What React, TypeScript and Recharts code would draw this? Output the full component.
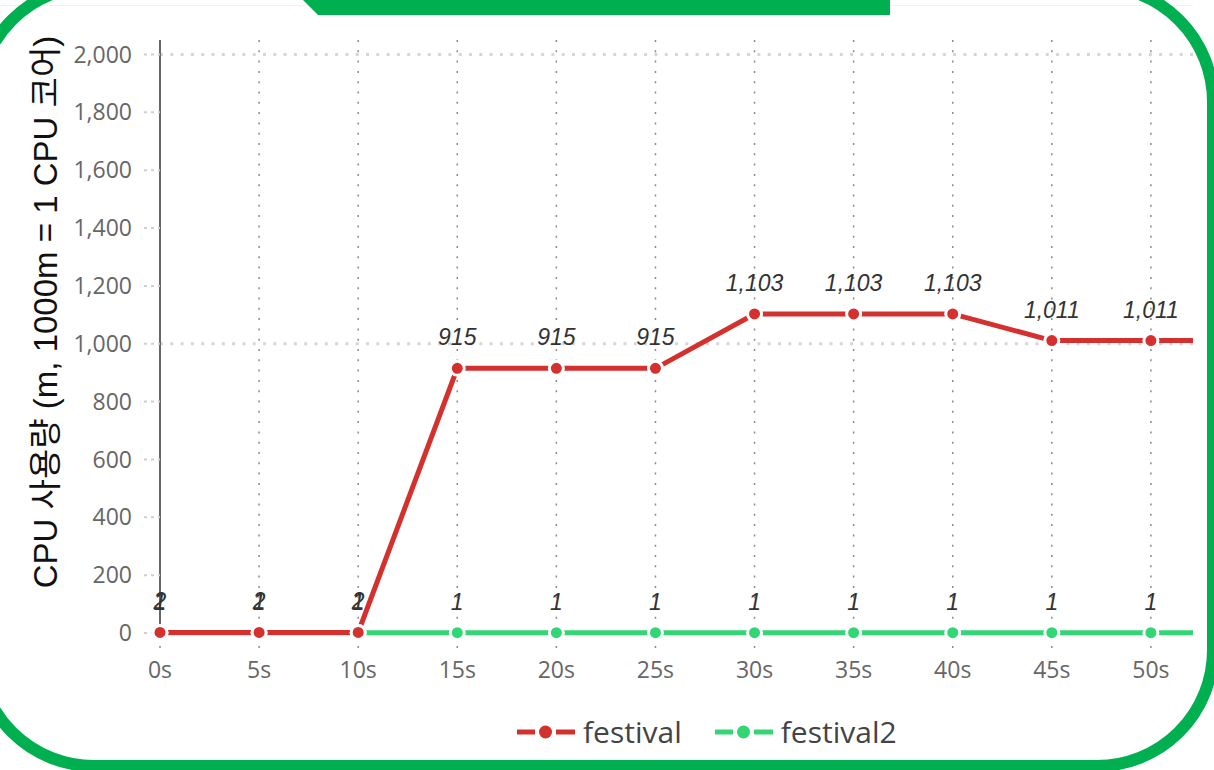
import { LineChart, Line, XAxis, YAxis, CartesianGrid, ReferenceLine, LabelList } from 'recharts';

// sample times in seconds; the last sample runs past the cropped right edge
const seconds = [0, 5, 10, 15, 20, 25, 30, 35, 40, 45, 50, 55];
const festival = [2, 2, 2, 915, 915, 915, 1103, 1103, 1103, 1011, 1011, 1011];
const festival2 = [1, 1, 1, 1, 1, 1, 1, 1, 1, 1, 1, 1];
const xTicks = [0, 5, 10, 15, 20, 25, 30, 35, 40, 45, 50];
const yTicks = [0, 200, 400, 600, 800, 1000, 1200, 1400, 1600, 1800, 2000];
const gridValues = [1000, 2000];
const yLabel = 'CPU 사용량 (m, 1000m = 1 CPU 코어)';

const series = [
    { key: 'festival', color: '#d3302e', values: festival },
    { key: 'festival2', color: '#33d675', values: festival2 },
];

const fmt = (v: number) => v.toLocaleString('en-US');
const lastVisible = xTicks[xTicks.length - 1];

function LegendIcon({ color }: { color: string }) {
    return (
        <svg width={58} height={20} style={{ display: 'block' }}>
            <line x1={0} y1={10} x2={18} y2={10} stroke={color} strokeWidth={5} />
            <circle cx={28.5} cy={10} r={6.5} fill={color} />
            <line x1={39} y1={10} x2={58} y2={10} stroke={color} strokeWidth={5} />
        </svg>
    );
}

export default function App() {
    const data = seconds.map((t, i) => {
        const row: Record<string, number | null> = { t };
        series.forEach((s) => {
            row[s.key] = s.values[i];
            // no value label for the sample that falls outside the crop
            row[s.key + 'Label'] = t <= lastVisible ? s.values[i] : null;
        });
        return row;
    });

    return (
        <div style={{ position: 'absolute', left: 0, top: 0, width: 1214, height: 770, overflow: 'hidden', background: '#fff' }}>
            {/* chart picture, cropped on the right */}
            <div style={{ position: 'absolute', left: 0, top: 0, width: 1193, height: 770, overflow: 'hidden' }}>
                <div style={{ position: 'absolute', left: 0, top: 5, width: '100%', height: 1, background: '#f2f2f2' }} />
                <LineChart width={1300} height={770} data={data} margin={{ top: 40, right: 50, bottom: 87, left: 0 }}>
                    <CartesianGrid horizontal={false} stroke="#8a8a8a" strokeWidth={1.5} strokeDasharray="2 8.3" />
                    {gridValues.map((v) => (
                        <ReferenceLine key={v} y={v} stroke="#d6d6d6" strokeWidth={3} strokeDasharray="3 7.3" />
                    ))}
                    <XAxis
                        dataKey="t"
                        type="number"
                        domain={[0, 55]}
                        ticks={xTicks}
                        interval={0}
                        height={50}
                        axisLine={false}
                        tickSize={15}
                        tickMargin={14}
                        tickLine={{ stroke: '#8a8a8a', strokeWidth: 1.5, strokeDasharray: '2 8.3' }}
                        tick={{ fill: '#666', fontSize: 23, fontFamily: '"Open Sans", sans-serif' }}
                        tickFormatter={(v) => `${v}s`}
                    />
                    <YAxis
                        width={160}
                        domain={[0, 2050]}
                        ticks={yTicks}
                        interval={0}
                        axisLine={{ stroke: '#666', strokeWidth: 2 }}
                        tickSize={16}
                        tickMargin={12}
                        tickLine={{ stroke: '#cfcfcf', strokeWidth: 2, strokeDasharray: '3 4' }}
                        tick={{ fill: '#666', fontSize: 23, fontFamily: '"Open Sans", sans-serif' }}
                        tickFormatter={fmt}
                    />
                    {[...series].reverse().map((s) => (
                        <Line
                            key={s.key}
                            type="linear"
                            dataKey={s.key}
                            stroke={s.color}
                            strokeWidth={5}
                            dot={{ r: 7, fill: s.color, stroke: '#fff', strokeWidth: 3 }}
                            activeDot={false}
                            isAnimationActive={false}
                        >
                            <LabelList
                                dataKey={s.key + 'Label'}
                                position="top"
                                offset={23}
                                formatter={fmt}
                                fill="#333"
                                fontSize={23}
                                fontStyle="italic"
                                fontFamily='"Liberation Sans", Arial, sans-serif'
                            />
                        </Line>
                    ))}
                </LineChart>
            </div>

            {/* y axis title */}
            <svg width={100} height={770} style={{ position: 'absolute', left: 0, top: 0 }}>
                <text
                    x={45}
                    y={312}
                    transform="rotate(-90 45 312)"
                    textAnchor="middle"
                    dominantBaseline="central"
                    fontSize={33}
                    fill="#111"
                    fontFamily='"Liberation Sans", "Noto Sans CJK KR", sans-serif'
                >
                    {yLabel}
                </text>
            </svg>

            {/* legend */}
            <div style={{ position: 'absolute', left: 517, top: 712, display: 'flex', alignItems: 'center', fontFamily: '"Open Sans", sans-serif', fontSize: 30, color: '#444', lineHeight: '40px' }}>
                {series.map((s, i) => (
                    <div key={s.key} style={{ display: 'flex', alignItems: 'center', marginLeft: i === 0 ? 0 : 33 }}>
                        <LegendIcon color={s.color} />
                        <span style={{ marginLeft: 8 }}>{s.key}</span>
                    </div>
                ))}
            </div>

            {/* green frame */}
            <svg width={1214} height={770} style={{ position: 'absolute', left: 0, top: 0, pointerEvents: 'none' }}>
                <rect x={-22} y={-14} width={1235} height={780} rx={116} fill="none" stroke="#00b050" strokeWidth={12} />
                <polygon points="303,0 890,0 890,15 318,15" fill="#00b050" />
            </svg>
        </div>
    );
}
